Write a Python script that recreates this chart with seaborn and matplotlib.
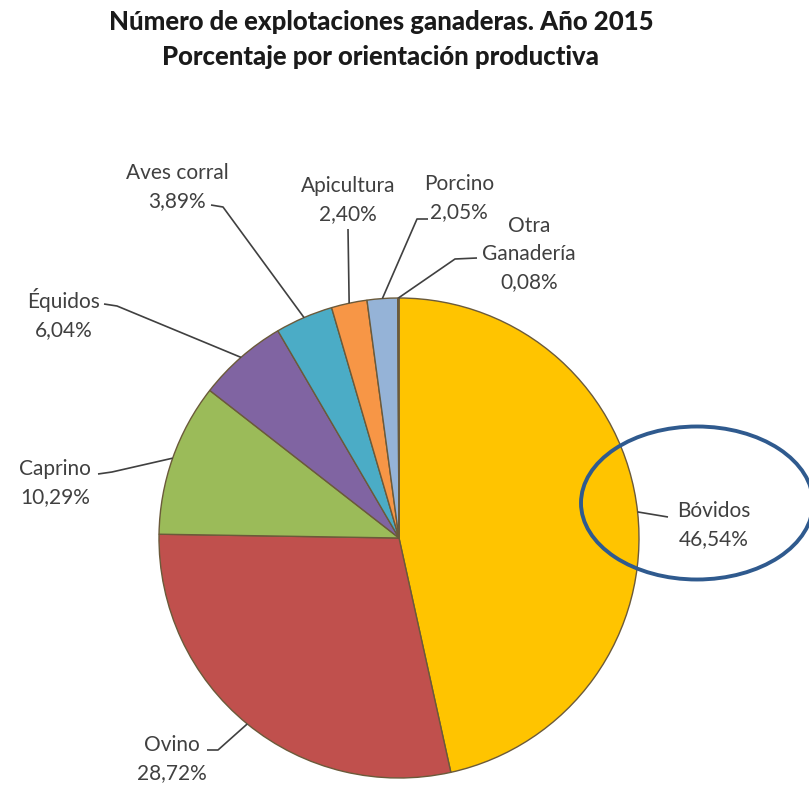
import matplotlib
matplotlib.use("Agg")
import matplotlib.pyplot as plt
import numpy as np
import seaborn as sns
from matplotlib.patches import Ellipse

# Datos: número de explotaciones ganaderas, año 2015 (%)
categorias = ["Bóvidos", "Ovino", "Caprino", "Équidos", "Aves corral",
              "Apicultura", "Porcino", "Otra\nGanadería"]
porcentajes = [46.54, 28.72, 10.29, 6.04, 3.89, 2.40, 2.05, 0.08]
colores = ["#FFC400", "#C0504D", "#9BBB59", "#8064A2", "#4BACC6",
           "#F79646", "#95B3D7", "#2C4D75"]

sns.set_theme(style="white")
plt.rcParams['font.family'] = ['Lato', 'DejaVu Sans']

W, H = 809, 791
fig = plt.figure(figsize=(W / 100, H / 100), dpi=100)
ax = fig.add_axes([0, 0, 1, 1])


def px(x, y):
    # coordenadas en píxeles (origen arriba a la izquierda) -> datos
    return x, H - y


cx, cy = px(399, 538)
radio = 240

wedges, _ = ax.pie(porcentajes, colors=colores, startangle=90, counterclock=False,
                   center=(cx, cy), radius=radio,
                   wedgeprops=dict(edgecolor="#6b5a3a", linewidth=1.0))

# posición de las etiquetas: centro del texto, codo de la línea, extremo junto al texto
etiquetas = [
    ((714, 525), (668, 517), None),
    ((172, 759), (218, 750), (207, 750)),
    ((55, 483), (112, 472), (98, 474)),
    ((64, 314), (117, 306), (104, 304)),
    ((177, 187), (223, 207), (211, 205)),
    ((348, 200), (348, 229), None),
    ((459, 198), (417, 219), (428, 219)),
    ((529, 254), (455, 259), (477, 258)),
]

for i, (w, (txt, codo, fin)) in enumerate(zip(wedges, etiquetas)):
    ang = np.deg2rad((w.theta1 + w.theta2) / 2)
    x0 = cx + radio * np.cos(ang)
    y0 = cy + radio * np.sin(ang)
    xc, yc = px(*codo)
    xs = [x0, xc]
    ys = [y0, yc]
    if fin is not None:
        xf, yf = px(*fin)
        xs.append(xf)
        ys.append(yf)
    ax.plot(xs, ys, color="#404040", lw=1.2, solid_capstyle="butt")
    etiqueta = f"{categorias[i]}\n{porcentajes[i]:.2f}%".replace(".", ",")
    tx, ty = px(*txt)
    ax.text(tx, ty, etiqueta, ha="center", va="center", fontsize=15,
            color="#404040", linespacing=1.5)

# óvalo resaltando Bóvidos
ex, ey = px(697, 503)
ax.add_patch(Ellipse((ex, ey), 232, 153, fill=False, edgecolor="#2F5A8E", lw=2.8))

# título
tx, ty = px(381, 22)
ax.text(tx, ty, "Número de explotaciones ganaderas. Año 2015", ha="center", va="center",
        fontsize=18.5, fontweight="black", color="#1a1a1a")
tx, ty = px(381, 57)
ax.text(tx, ty, "Porcentaje por orientación productiva", ha="center", va="center",
        fontsize=18.5, fontweight="black", color="#1a1a1a")

ax.set_xlim(0, W)
ax.set_ylim(0, H)
ax.set_aspect("auto")
ax.axis("off")

fig.savefig("out.png", dpi=100)
